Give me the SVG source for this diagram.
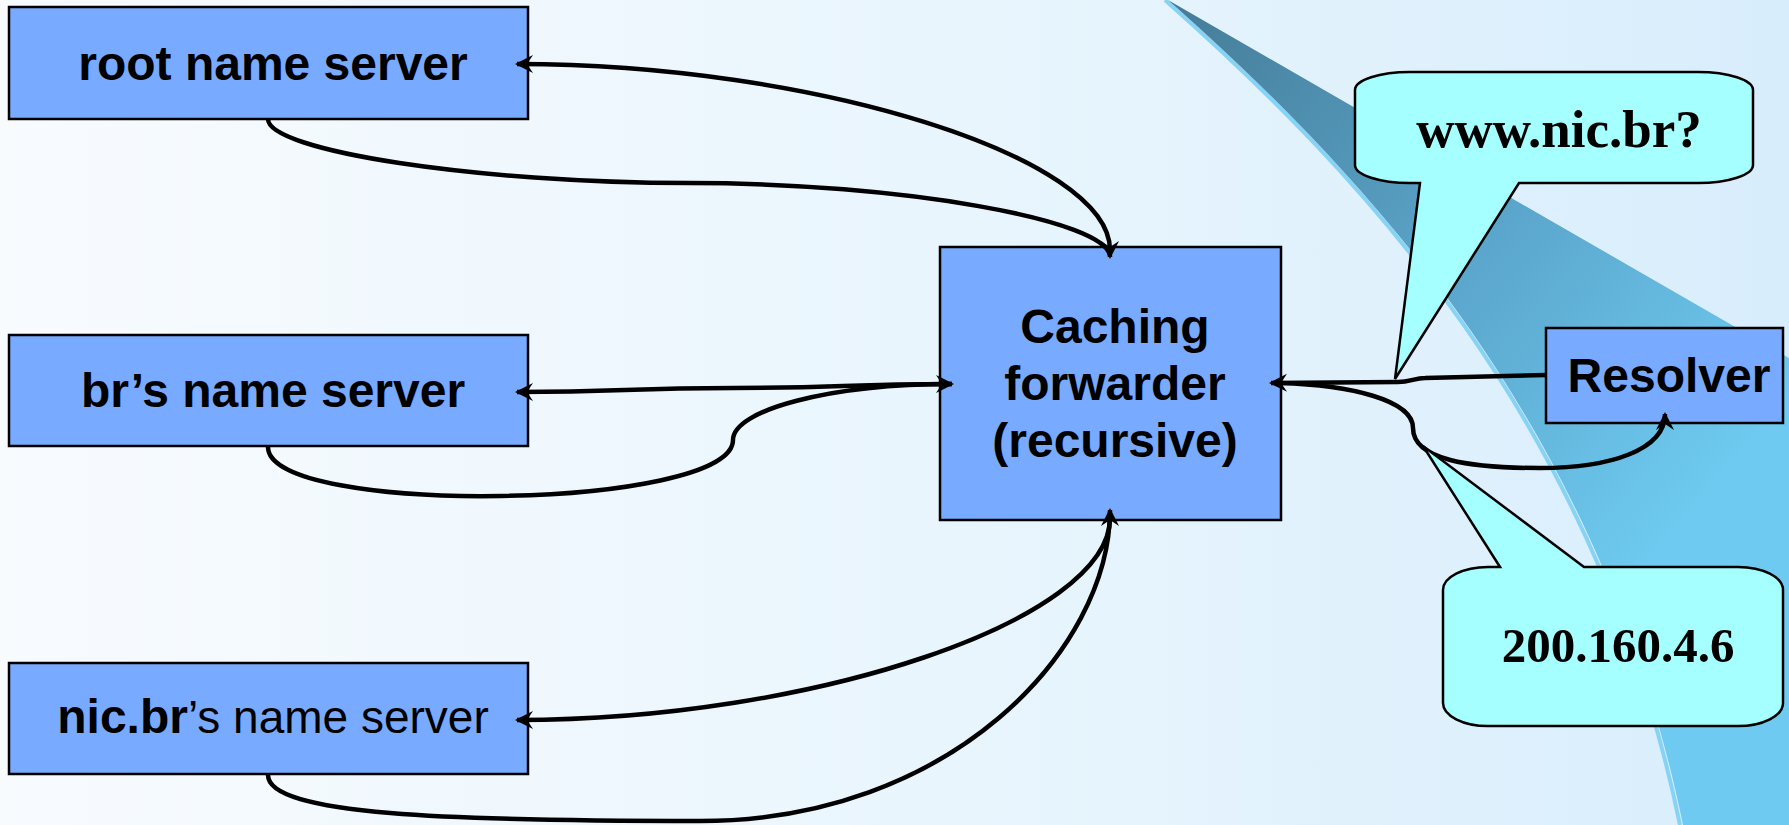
<svg xmlns="http://www.w3.org/2000/svg" width="1789" height="825" viewBox="0 0 1789 825">
  <defs>
    <linearGradient id="bg" x1="0" y1="0" x2="1" y2="0">
      <stop offset="0" stop-color="#f8fbfe"/>
      <stop offset="0.55" stop-color="#e8f5fd"/>
      <stop offset="1" stop-color="#d8edfc"/>
    </linearGradient>
    <linearGradient id="band" gradientUnits="userSpaceOnUse" x1="1170" y1="0" x2="1720" y2="480">
      <stop offset="0" stop-color="#457c97"/>
      <stop offset="0.55" stop-color="#5ba6cc"/>
      <stop offset="1" stop-color="#6ecaf0"/>
    </linearGradient>
    <marker id="arrow" markerUnits="userSpaceOnUse" markerWidth="40" markerHeight="40" refX="0" refY="0" orient="auto" overflow="visible">
      <path d="M2,0 L-16,-9 L-10,0 L-16,9 Z" fill="#000"/>
    </marker>
    <style>
      .box { fill: #78aaff; stroke: #000; stroke-width: 2.5; }
      .callout { fill: #a6ffff; stroke: #000; stroke-width: 2.5; stroke-linejoin: miter; }
      .lbl { font-family: "Liberation Sans", Arial, sans-serif; font-weight: bold; font-size: 48px; fill: #000; text-anchor: middle; }
      .reg { font-weight: normal; font-size: 46px; }
      .serif { font-family: "Liberation Serif", "Times New Roman", serif; font-weight: bold; font-size: 49px; fill: #000; text-anchor: middle; }
      .big { font-size: 53px; }
      .conn { fill: none; stroke: #000; stroke-width: 4.5; stroke-linecap: butt; stroke-linejoin: round; marker-end: url(#arrow); }
    </style>
  </defs>

  <!-- background -->
  <rect x="0" y="0" width="1789" height="825" fill="url(#bg)"/>
  <path d="M1165,0 C1357,170 1597,420 1680,825" fill="none" stroke="#86d3f6" stroke-width="4"/>
  <path d="M1168,0 C1360,170 1600,420 1683,825 L1789,825 L1789,358 Z" fill="url(#band)"/>

  <!-- nodes -->
  <g id="root">
    <rect class="box" x="9" y="7" width="519" height="112"/>
    <text class="lbl" x="273" y="80">root name server</text>
  </g>
  <g id="br">
    <rect class="box" x="9" y="335" width="519" height="111"/>
    <text class="lbl" x="273" y="407">br’s name server</text>
  </g>
  <g id="nicbr">
    <rect class="box" x="9" y="663" width="519" height="111"/>
    <text class="lbl" x="273" y="733">nic.br<tspan class="reg">’s name server</tspan></text>
  </g>
  <g id="forwarder">
    <rect class="box" x="940" y="247" width="341" height="273"/>
    <text class="lbl" x="1115" y="343">Caching</text>
    <text class="lbl" x="1115" y="400">forwarder</text>
    <text class="lbl" x="1115" y="457">(recursive)</text>
  </g>
  <g id="resolver">
    <rect class="box" x="1546" y="328" width="237" height="95"/>
    <text class="lbl" x="1669" y="392">Resolver</text>
  </g>

  <!-- connectors -->
  <g id="connectors">
    <path class="conn" d="M1110,250 C1110,157 814,64 517,64"/>
    <path class="conn" d="M268,119 C268,151 478,183 689,183 C900,183 1110,220 1110,257"/>
    <path class="conn" d="M952,384 C843,384 843,388 734,388 C625,388 625,392 517,392"/>
    <path class="conn" d="M268,447 C268,517 733,510 733,440 C733,410 830,384 952,384"/>
    <path class="conn" d="M1110,518 C1110,620 813,720 517,720"/>
    <path class="conn" d="M268,775 C268,815 450,821 700,821 C950,821 1110,650 1110,510"/>
    <path class="conn" d="M1546,375 L1425,378 C1415,378 1410,382 1398,382 L1271,383"/>
    <path class="conn" d="M1280,383 C1350,385 1413,400 1413,428 C1413,460 1470,468 1540,468 C1610,468 1665,450 1665,414"/>
  </g>

  <!-- callouts -->
  <g id="callout-query">
    <path class="callout" d="M1410,72 L1698,72 A55,18 0 0 1 1753,90 L1753,165 A55,18 0 0 1 1698,183 L1519,183 L1395,379 L1420,183 L1410,183 A55,18 0 0 1 1355,165 L1355,90 A55,18 0 0 1 1410,72 Z"/>
    <text class="serif big" x="1559" y="147">www.nic.br?</text>
  </g>
  <g id="callout-answer">
    <path class="callout" d="M1500,567 L1423,446 L1584,567 L1738,567 A45,23 0 0 1 1783,590 L1783,703 A45,23 0 0 1 1738,726 L1488,726 A45,23 0 0 1 1443,703 L1443,590 A45,23 0 0 1 1488,567 Z"/>
    <text class="serif" x="1618" y="662">200.160.4.6</text>
  </g>
</svg>
